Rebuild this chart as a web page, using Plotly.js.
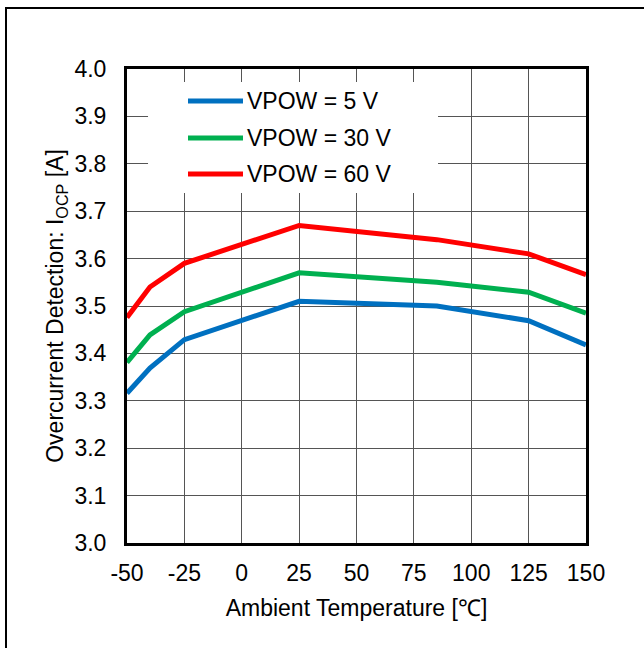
<!DOCTYPE html>
<html>
<head>
<meta charset="utf-8">
<script src="https://cdn.plot.ly/plotly-3.0.1.min.js"></script>
<style>
  html, body { margin: 0; padding: 0; background: #fff; overflow: hidden; }
  #wrap { position: relative; width: 644px; height: 648px; }
  #chart { position: absolute; left: 0; top: 0; width: 644px; height: 648px; }
  #frame { position: absolute; left: 5px; top: 7px; width: 700px; height: 700px;
           border-left: 2px solid #000; border-top: 2px solid #000; pointer-events: none; }
</style>
</head>
<body>
<div id="wrap">
  <div id="chart"></div>
  <div id="frame"></div>
</div>
<script>
// Ambient temperature [°C]
const temps = [-50, -40, -25, 25, 85, 125, 150];
// Overcurrent detection I_OCP [A]
const vpow5  = [3.316, 3.369, 3.429, 3.510, 3.500, 3.469, 3.418];
const vpow30 = [3.381, 3.439, 3.488, 3.570, 3.550, 3.529, 3.485];
const vpow60 = [3.476, 3.540, 3.590, 3.670, 3.640, 3.610, 3.566];
const seriesNames = ['VPOW = 5 V', 'VPOW = 30 V', 'VPOW = 60 V'];
const seriesColors = ['#0070C0', '#00B050', '#FF0000'];
const xTicks = [-50, -25, 0, 25, 50, 75, 100, 125, 150];
const yTicks = [3.0, 3.1, 3.2, 3.3, 3.4, 3.5, 3.6, 3.7, 3.8, 3.9, 4.0];

const seriesValues = [vpow5, vpow30, vpow60];
const FONT = 'Liberation Sans, Arial, sans-serif';

const traces = seriesValues.map((vals, i) => ({
  x: temps, y: vals, type: 'scatter', mode: 'lines', name: seriesNames[i],
  line: { color: seriesColors[i], width: 5 }, showlegend: false, hoverinfo: 'skip'
}));

// manual legend (long line samples like the reference)
const legRowsY = [0.9325, 0.8544, 0.7785];
const shapes = [{
  type: 'rect', xref: 'paper', yref: 'paper', x0: 0.0458, x1: 0.6776, y0: 0.7384, y1: 0.9726,
  fillcolor: '#ffffff', line: { width: 0 }, layer: 'above'
}];
const annotations = [];
seriesNames.forEach((nm, i) => {
  shapes.push({ type: 'line', xref: 'paper', yref: 'paper', x0: 0.1329, x1: 0.2527,
    y0: legRowsY[i], y1: legRowsY[i], line: { color: seriesColors[i], width: 5 }, layer: 'above' });
  annotations.push({ xref: 'paper', yref: 'paper', x: 0.258, y: legRowsY[i], text: nm,
    showarrow: false, xanchor: 'left', yanchor: 'middle', font: { family: FONT, size: 23, color: '#000' } });
});

const layout = {
  width: 644, height: 648,
  margin: { l: 127, r: 58, t: 69, b: 105, pad: 0 },
  paper_bgcolor: '#fff', plot_bgcolor: '#fff',
  font: { family: FONT, size: 23, color: '#000' },
  showlegend: false,
  xaxis: {
    range: [-50, 150], tickvals: xTicks, ticktext: xTicks.map(String),
    showgrid: true, gridcolor: '#555', gridwidth: 1, zeroline: false,
    showline: true, linecolor: '#000', linewidth: 3, mirror: true,
    ticks: '', ticklabelstandoff: 7,
    tickfont: { family: FONT, size: 23, color: '#000' },
    title: { text: 'Ambient Temperature [℃]', font: { family: FONT, size: 23, color: '#000' }, standoff: 16 },
    automargin: false
  },
  yaxis: {
    range: [3.0, 4.0], tickvals: yTicks, tickformat: '.1f',
    showgrid: true, gridcolor: '#555', gridwidth: 1, zeroline: false,
    showline: true, linecolor: '#000', linewidth: 3, mirror: true,
    ticks: '', ticklabelstandoff: 13,
    tickfont: { family: FONT, size: 23, color: '#000' },
    title: { text: 'Overcurrent Detection: I<sub>OCP</sub> [A]', font: { family: FONT, size: 23, color: '#000' }, standoff: 5 },
    automargin: false
  },
  shapes: shapes,
  annotations: annotations
};

Plotly.newPlot('chart', traces, layout, { staticPlot: true, displayModeBar: false });
</script>
</body>
</html>
